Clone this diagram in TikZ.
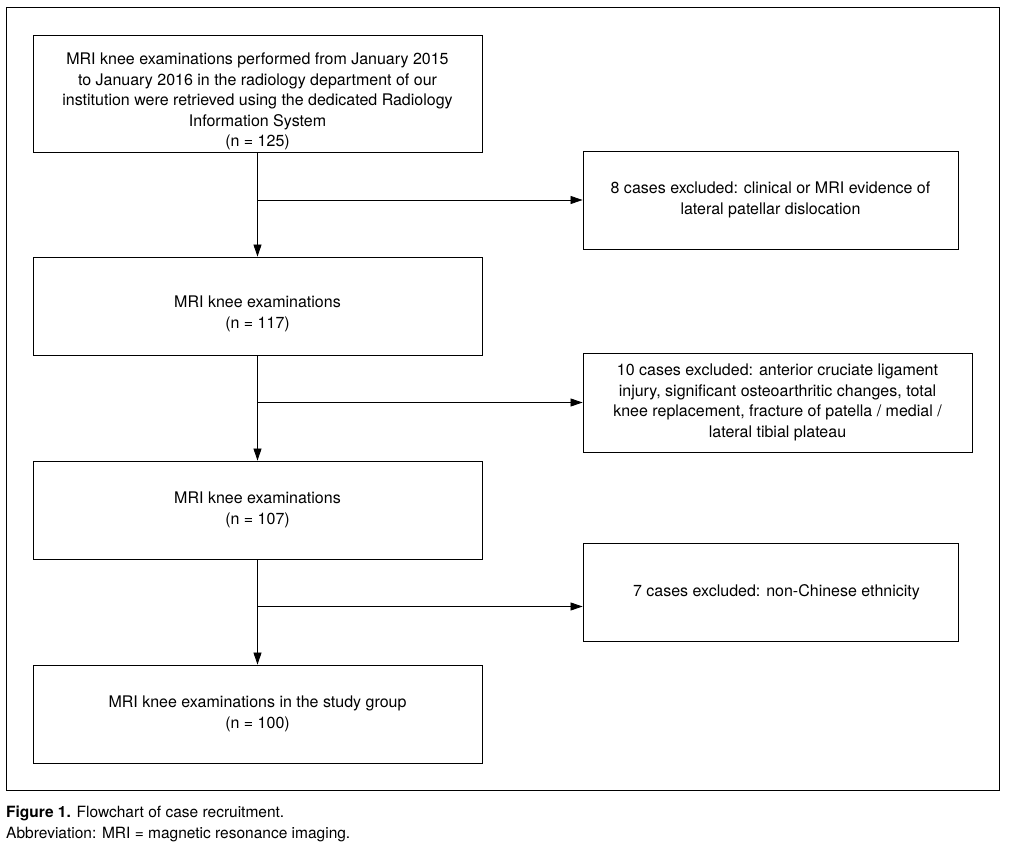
\documentclass[tikz,border=0pt]{standalone}
\usepackage{fontspec}
\setmainfont{TeX Gyre Heros}
\usetikzlibrary{arrows.meta,calc}
\begin{document}
\begin{tikzpicture}[x=1pt,y=-1pt,
  box/.style={draw,line width=0.9pt,inner sep=0pt,align=center,
    font=\fontsize{16}{20.5}\selectfont},
  boxtext/.style={inner sep=0pt,align=center,font=\fontsize{16}{20.5}\selectfont},
  conn/.style={line width=0.8pt,-{Triangle[length=12pt,width=8pt]}},
  captext/.style={anchor=base west,inner sep=0pt,font=\fontsize{15.5}{19}\selectfont}]
\useasboundingbox (0,0) rectangle (1009,848);
\draw[line width=0.9pt] (6,7) rectangle (999,790);
% main column
\node[box,minimum width=449pt,minimum height=117pt] (b1) at (257.5,93.5) {};
\node[boxtext] (t1) at ($(b1.center)+(0,8)$)
  {MRI knee examinations performed from January 2015\\to January 2016 in the radiology department of our\\institution were retrieved using the dedicated Radiology\\Information System\\(n = 125)};
\node[box,minimum width=449pt,minimum height=98pt] (b2) at (257.5,306) {};
\node[boxtext] (t2) at ($(b2.center)+(0,8)$) {MRI knee examinations\\(n = 117)};
\node[box,minimum width=449pt,minimum height=98pt] (b3) at (257.5,510)
  {MRI knee examinations\\(n = 107)};
\node[box,minimum width=449pt,minimum height=98pt] (b4) at (257.5,714)
  {MRI knee examinations in the study group\\(n = 100)};
% exclusion boxes
\node[box,minimum width=375pt,minimum height=98pt] (r1) at (770.5,200)
  {8 cases excluded: clinical or MRI evidence of\\lateral patellar dislocation};
\node[box,minimum width=389pt,minimum height=99pt] (r2) at (777.5,402.5)
  {10 cases excluded: anterior cruciate ligament\\injury, significant osteoarthritic changes, total\\knee replacement, fracture of patella / medial /\\lateral tibial plateau};
\node[box,minimum width=375pt,minimum height=98pt] (r3) at (770.5,592)
  {\hspace{12pt}7 cases excluded: non-Chinese ethnicity};
% connectors
\coordinate (j2) at (257.5,402.5);
\coordinate (j3) at (257.5,606.5);
\draw[conn] (b1.south) -- (b2.north);
\draw[conn] (b2.south) -- (b3.north);
\draw[conn] (b3.south) -- (b4.north);
\draw[conn] (b1.south |- r1.west) -- (r1.west);
\draw[conn] (j2) -- (r2.west);
\draw[conn] (j3) -- (r3.west |- j3);
% caption
\node[captext] (c1) at (6,817) {\textbf{Figure 1.} Flowchart of case recruitment.};
\node[captext] (c2) at (6,838) {Abbreviation: MRI = magnetic resonance imaging.};
\end{tikzpicture}
\end{document}
